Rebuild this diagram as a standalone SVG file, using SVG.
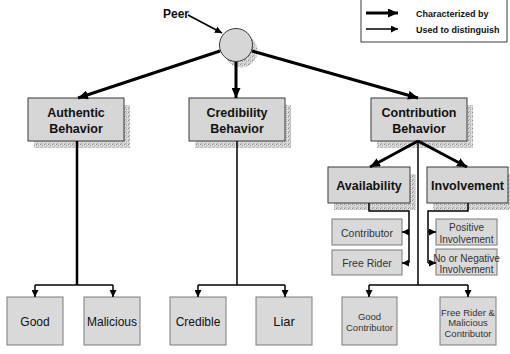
<svg xmlns="http://www.w3.org/2000/svg" width="510" height="354" viewBox="0 0 510 354">
<style>
.bg{fill:#fff}
.top{fill:#d6d6d6;stroke:#3a3a3a;stroke-width:1}
.sub{fill:#d9d9d9;stroke:#7a7a7a;stroke-width:1}
.shd{fill:url(#stip)}
.tb{font-family:"Liberation Sans",Arial,sans-serif;font-weight:bold;font-size:12.5px;fill:#111;text-anchor:middle}
.tr{font-family:"Liberation Sans",Arial,sans-serif;font-size:12px;fill:#111;text-anchor:middle}
.ts{font-family:"Liberation Sans",Arial,sans-serif;font-size:10px;fill:#333;text-anchor:middle}
.lg{font-family:"Liberation Sans",Arial,sans-serif;font-weight:bold;font-size:9px;fill:#111}
.thick{stroke:#000;stroke-width:3;fill:none}
.thin{stroke:#000;stroke-width:1.5;fill:none}
</style>
<defs>
<pattern id="stip" width="4" height="4" patternUnits="userSpaceOnUse">
<rect width="4" height="4" fill="#cfcfcf"/>
<rect x="0" y="0" width="1" height="1" fill="#8f8f8f"/>
<rect x="2" y="1" width="1" height="1" fill="#a5a5a5"/>
<rect x="1" y="3" width="1" height="1" fill="#acacac"/>
<rect x="3" y="2" width="1" height="1" fill="#f0f0f0"/>
<rect x="1" y="1" width="1" height="1" fill="#ebebeb"/>
<rect x="3" y="0" width="1" height="1" fill="#e6e6e6"/>
</pattern>
<marker id="ah" markerUnits="userSpaceOnUse" markerWidth="11" markerHeight="9" refX="10" refY="4.5" orient="auto"><path d="M0,0 L10,4.5 L0,9 z" fill="#000"/></marker>
<marker id="as" markerUnits="userSpaceOnUse" markerWidth="8" markerHeight="7" refX="7" refY="3.5" orient="auto"><path d="M0,0 L7,3.5 L0,7 z" fill="#000"/></marker>
</defs>
<rect class="bg" width="510" height="354"/>

<g id="legend">
<rect x="361" y="-1" width="146" height="43" fill="#fff" stroke="#3a3a3a" stroke-width="1"/>
<line x1="366" y1="13" x2="398" y2="13" class="thick" marker-end="url(#ah)"/>
<line x1="366" y1="29" x2="398" y2="29" class="thin" marker-end="url(#as)"/>
<text x="416" y="16.5" class="lg">Characterized  by</text>
<text x="416" y="32.5" class="lg">Used to distinguish</text>
</g>

<g id="peer">
<circle cx="241" cy="51" r="16.5" class="shd"/>
<circle cx="236" cy="45" r="16.5" fill="#d6d6d6" stroke="#3a3a3a" stroke-width="1"/>
<text x="163" y="18" class="tb" style="text-anchor:start;font-size:12px">Peer</text>
</g>

<g id="authentic">
<rect x="34" y="105" width="96" height="43" class="shd"/>
<rect x="28" y="98" width="96" height="43" class="top"/>
<text x="76" y="117" class="tb">Authentic</text>
<text x="76" y="133" class="tb">Behavior</text>
</g>
<g id="credibility">
<rect x="195" y="105" width="96" height="43" class="shd"/>
<rect x="189" y="98" width="96" height="43" class="top"/>
<text x="237" y="117" class="tb">Credibility</text>
<text x="237" y="133" class="tb">Behavior</text>
</g>
<g id="contribution">
<rect x="377" y="105" width="96" height="43" class="shd"/>
<rect x="371" y="98" width="96" height="43" class="top"/>
<text x="419" y="117" class="tb">Contribution</text>
<text x="419" y="133" class="tb">Behavior</text>
</g>
<g id="availability">
<rect x="334" y="174" width="82" height="36" class="shd"/>
<rect x="328" y="167" width="82" height="36" class="top"/>
<text x="369" y="189.5" class="tb">Availability</text>
</g>
<g id="involvement">
<rect x="433" y="174" width="81" height="36" class="shd"/>
<rect x="427" y="167" width="81" height="36" class="top"/>
<text x="467.5" y="189.5" class="tb">Involvement</text>
</g>

<g id="contributor"><rect x="332" y="219" width="70" height="26" class="sub"/><text x="367" y="236.5" class="ts" style="font-size:10.5px">Contributor</text></g>
<g id="freerider"><rect x="332" y="250" width="70" height="25" class="sub"/><text x="367" y="267" class="ts" style="font-size:10.5px">Free Rider</text></g>
<g id="positive"><rect x="436" y="219" width="61" height="26" class="sub"/><text x="466.5" y="231" class="ts">Positive</text><text x="466.5" y="242.5" class="ts">Involvement</text></g>
<g id="negative"><rect x="436" y="249" width="61" height="26" class="sub"/><text x="466.5" y="262" class="ts">No or Negative</text><text x="466.5" y="272.5" class="ts">Involvement</text></g>

<g id="good"><rect x="7" y="297" width="56" height="48" class="sub"/><text x="35" y="326" class="tr">Good</text></g>
<g id="malicious"><rect x="84" y="297" width="56" height="48" class="sub"/><text x="112" y="326" class="tr">Malicious</text></g>
<g id="credible"><rect x="170" y="297" width="56" height="48" class="sub"/><text x="198" y="326" class="tr">Credible</text></g>
<g id="liar"><rect x="256" y="297" width="56" height="48" class="sub"/><text x="284" y="326" class="tr" style="font-size:13px">Liar</text></g>
<g id="goodcontributor"><rect x="342" y="297" width="55" height="48" class="sub"/><text x="369.5" y="319.5" class="ts" style="font-size:9.5px">Good</text><text x="369.5" y="331" class="ts" style="font-size:9.5px">Contributor</text></g>
<g id="freeridermalicious"><rect x="440" y="297" width="56" height="48" class="sub"/><text x="468" y="315.5" class="ts" style="font-size:9.5px">Free Rider &amp;</text><text x="468" y="326" class="ts" style="font-size:9.5px">Malicious</text><text x="468" y="336.5" class="ts" style="font-size:9.5px">Contributor</text></g>

<g id="connectors">
<line x1="188" y1="15" x2="222" y2="33" class="thin" marker-end="url(#as)"/>
<line x1="220" y1="51" x2="78" y2="98" class="thick" marker-end="url(#ah)"/>
<line x1="236" y1="62" x2="236" y2="98" class="thick" marker-end="url(#ah)"/>
<line x1="252" y1="51" x2="418" y2="98" class="thick" marker-end="url(#ah)"/>
<line x1="418" y1="141" x2="370" y2="167" class="thick" marker-end="url(#ah)"/>
<line x1="418" y1="141" x2="467" y2="167" class="thick" marker-end="url(#ah)"/>

<line x1="77" y1="141" x2="77" y2="285" stroke="#000" stroke-width="2.5"/>
<line x1="35" y1="285" x2="113" y2="285" class="thin"/>
<line x1="35" y1="285" x2="35" y2="297" class="thin" marker-end="url(#as)"/>
<line x1="113" y1="285" x2="113" y2="297" class="thin" marker-end="url(#as)"/>

<line x1="237" y1="141" x2="237" y2="285" class="thin"/>
<line x1="198" y1="285" x2="285" y2="285" class="thin"/>
<line x1="198" y1="285" x2="198" y2="297" class="thin" marker-end="url(#as)"/>
<line x1="285" y1="285" x2="285" y2="297" class="thin" marker-end="url(#as)"/>

<line x1="418" y1="141" x2="418" y2="285" class="thin"/>
<line x1="369" y1="285" x2="468" y2="285" class="thin"/>
<line x1="369" y1="285" x2="369" y2="297" class="thin" marker-end="url(#as)"/>
<line x1="468" y1="285" x2="468" y2="297" class="thin" marker-end="url(#as)"/>

<polyline points="369,203 369,211 409,211 409,263" class="thin"/>
<line x1="409" y1="232" x2="402" y2="232" class="thin" marker-end="url(#as)"/>
<line x1="409" y1="263" x2="402" y2="263" class="thin" marker-end="url(#as)"/>

<polyline points="468,203 468,211 428,211 428,263" class="thin"/>
<line x1="428" y1="232" x2="436" y2="232" class="thin" marker-end="url(#as)"/>
<line x1="428" y1="263" x2="436" y2="263" class="thin" marker-end="url(#as)"/>
</g>
</svg>
